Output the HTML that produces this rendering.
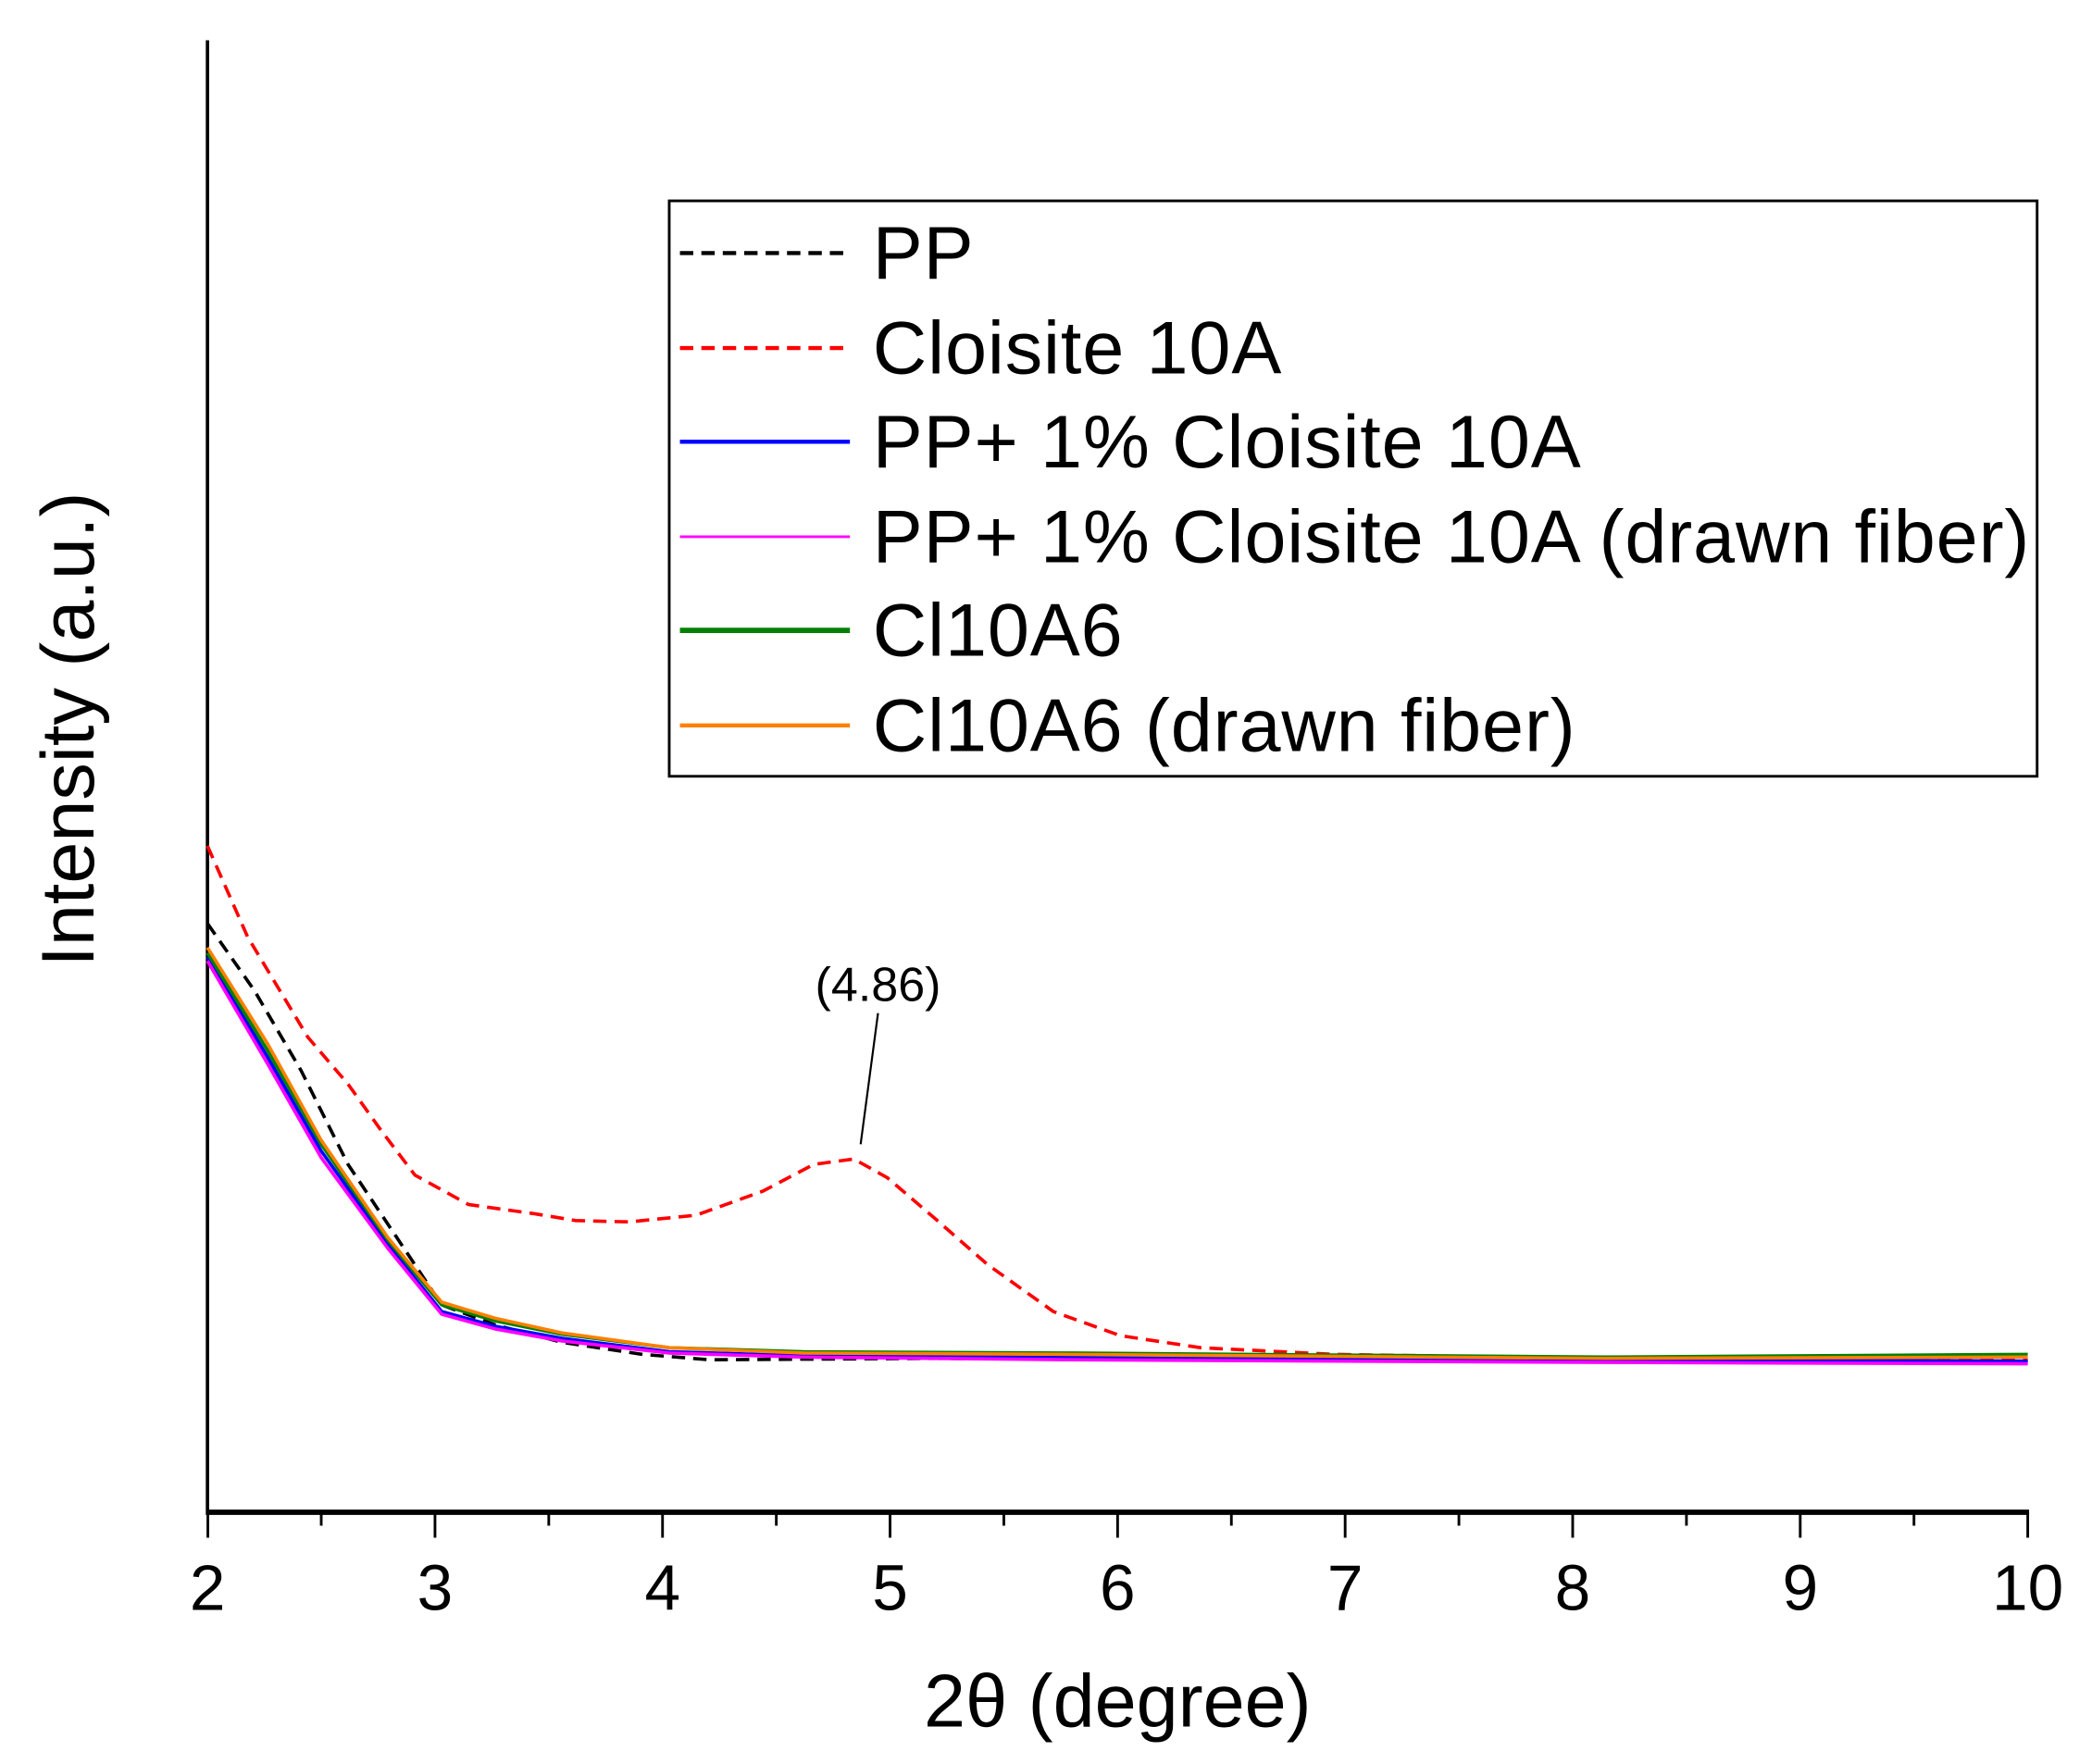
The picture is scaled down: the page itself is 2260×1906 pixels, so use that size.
<!DOCTYPE html>
<html><head><meta charset="utf-8"><style>html,body{margin:0;padding:0;background:#fff}svg{display:block}</style></head>
<body>
<svg width="2260" height="1906" viewBox="0 0 1563 1318" xmlns="http://www.w3.org/2000/svg" font-family="Liberation Sans, sans-serif">
<rect width="1563" height="1318" fill="#fff"/>
<line x1="155" y1="30" x2="155" y2="1132" stroke="#000" stroke-width="2.5"/>
<line x1="154" y1="1130" x2="1516" y2="1130" stroke="#000" stroke-width="4"/>
<g stroke="#000" stroke-width="2">
<line x1="155.3" y1="1130" x2="155.3" y2="1149"/><line x1="240" y1="1130" x2="240" y2="1140"/>
<line x1="325" y1="1130" x2="325" y2="1149"/><line x1="410" y1="1130" x2="410" y2="1140"/>
<line x1="495" y1="1130" x2="495" y2="1149"/><line x1="580" y1="1130" x2="580" y2="1140"/>
<line x1="665" y1="1130" x2="665" y2="1149"/><line x1="750" y1="1130" x2="750" y2="1140"/>
<line x1="835" y1="1130" x2="835" y2="1149"/><line x1="920" y1="1130" x2="920" y2="1140"/>
<line x1="1005" y1="1130" x2="1005" y2="1149"/><line x1="1090" y1="1130" x2="1090" y2="1140"/>
<line x1="1175" y1="1130" x2="1175" y2="1149"/><line x1="1260" y1="1130" x2="1260" y2="1140"/>
<line x1="1345" y1="1130" x2="1345" y2="1149"/><line x1="1430" y1="1130" x2="1430" y2="1140"/>
<line x1="1515" y1="1130" x2="1515" y2="1149"/>
</g>
<g font-size="48" text-anchor="middle" fill="#000">
<text x="155" y="1203">2</text><text x="325" y="1203">3</text><text x="495" y="1203">4</text>
<text x="665" y="1203">5</text><text x="835" y="1203">6</text><text x="1005" y="1203">7</text>
<text x="1175" y="1203">8</text><text x="1345" y="1203">9</text><text x="1515" y="1203">10</text>
</g>
<text x="835" y="1290" font-size="56" text-anchor="middle">2θ (degree)</text>
<text transform="translate(70,545) rotate(-90)" font-size="56" text-anchor="middle">Intensity (a.u.)</text>
<g fill="none" stroke-width="2.5" stroke-linejoin="round">
<polyline stroke="#ff0000" stroke-dasharray="10,6" points="155,632 185,700 230,775 260,810 285,845 310,878 350,900 400,907 430,912 470,913 520,908 570,890 608,870 638,866 663,880 698,910 738,945 787,980 837,998 897,1007 997,1012 1195,1015 1515,1016"/>
<polyline stroke="#000" stroke-dasharray="10,6" points="155,690 190,740 225,800 260,870 300,930 330,975 370,990 420,1003 480,1012 530,1016 700,1015 1100,1017 1515,1018"/>
<polyline stroke="#0000ff" points="155,715 200,790 240,860 290,930 330,980 370,991 420,1000 500,1010 600,1013 800,1014 1200,1016 1515,1017"/>
<polyline stroke="#ff00ff" points="155,718 200,795 240,865 290,933 330,982 370,993 420,1002 500,1011 600,1014 800,1016 1200,1018 1515,1019"/>
<polyline stroke="#008000" points="155,712 200,785 240,855 290,927 330,975 370,987 420,997 500,1007 600,1010 800,1011 1200,1014 1515,1012"/>
<polyline stroke="#ff8000" points="155,708 200,780 240,852 290,925 330,973 370,985 420,996 500,1007 600,1011 800,1012 1200,1015 1515,1014"/>
</g>
<text x="656" y="748" font-size="36" text-anchor="middle">(4.86)</text>
<line x1="656" y1="757" x2="643" y2="855" stroke="#000" stroke-width="1.5"/>
<rect x="500" y="150" width="1022" height="430" fill="#fff" stroke="#000" stroke-width="2"/>
<g stroke-width="3">
<line x1="508" y1="189" x2="635" y2="189" stroke="#000" stroke-dasharray="10,6"/>
<line x1="508" y1="260" x2="635" y2="260" stroke="#ff0000" stroke-dasharray="10,6"/>
<line x1="508" y1="330" x2="635" y2="330" stroke="#0000ff"/>
<line x1="508" y1="401" x2="635" y2="401" stroke="#ff00ff" stroke-width="2"/>
<line x1="508" y1="471" x2="635" y2="471" stroke="#008000" stroke-width="4"/>
<line x1="508" y1="542" x2="635" y2="542" stroke="#ff8000"/>
</g>
<g font-size="56" fill="#000" letter-spacing="0.6">
<text x="652" y="208">PP</text>
<text x="652" y="279">Cloisite 10A</text>
<text x="652" y="349">PP+ 1% Cloisite 10A</text>
<text x="652" y="420">PP+ 1% Cloisite 10A (drawn fiber)</text>
<text x="652" y="490">Cl10A6</text>
<text x="652" y="561">Cl10A6 (drawn fiber)</text>
</g>
</svg>
</body></html>
